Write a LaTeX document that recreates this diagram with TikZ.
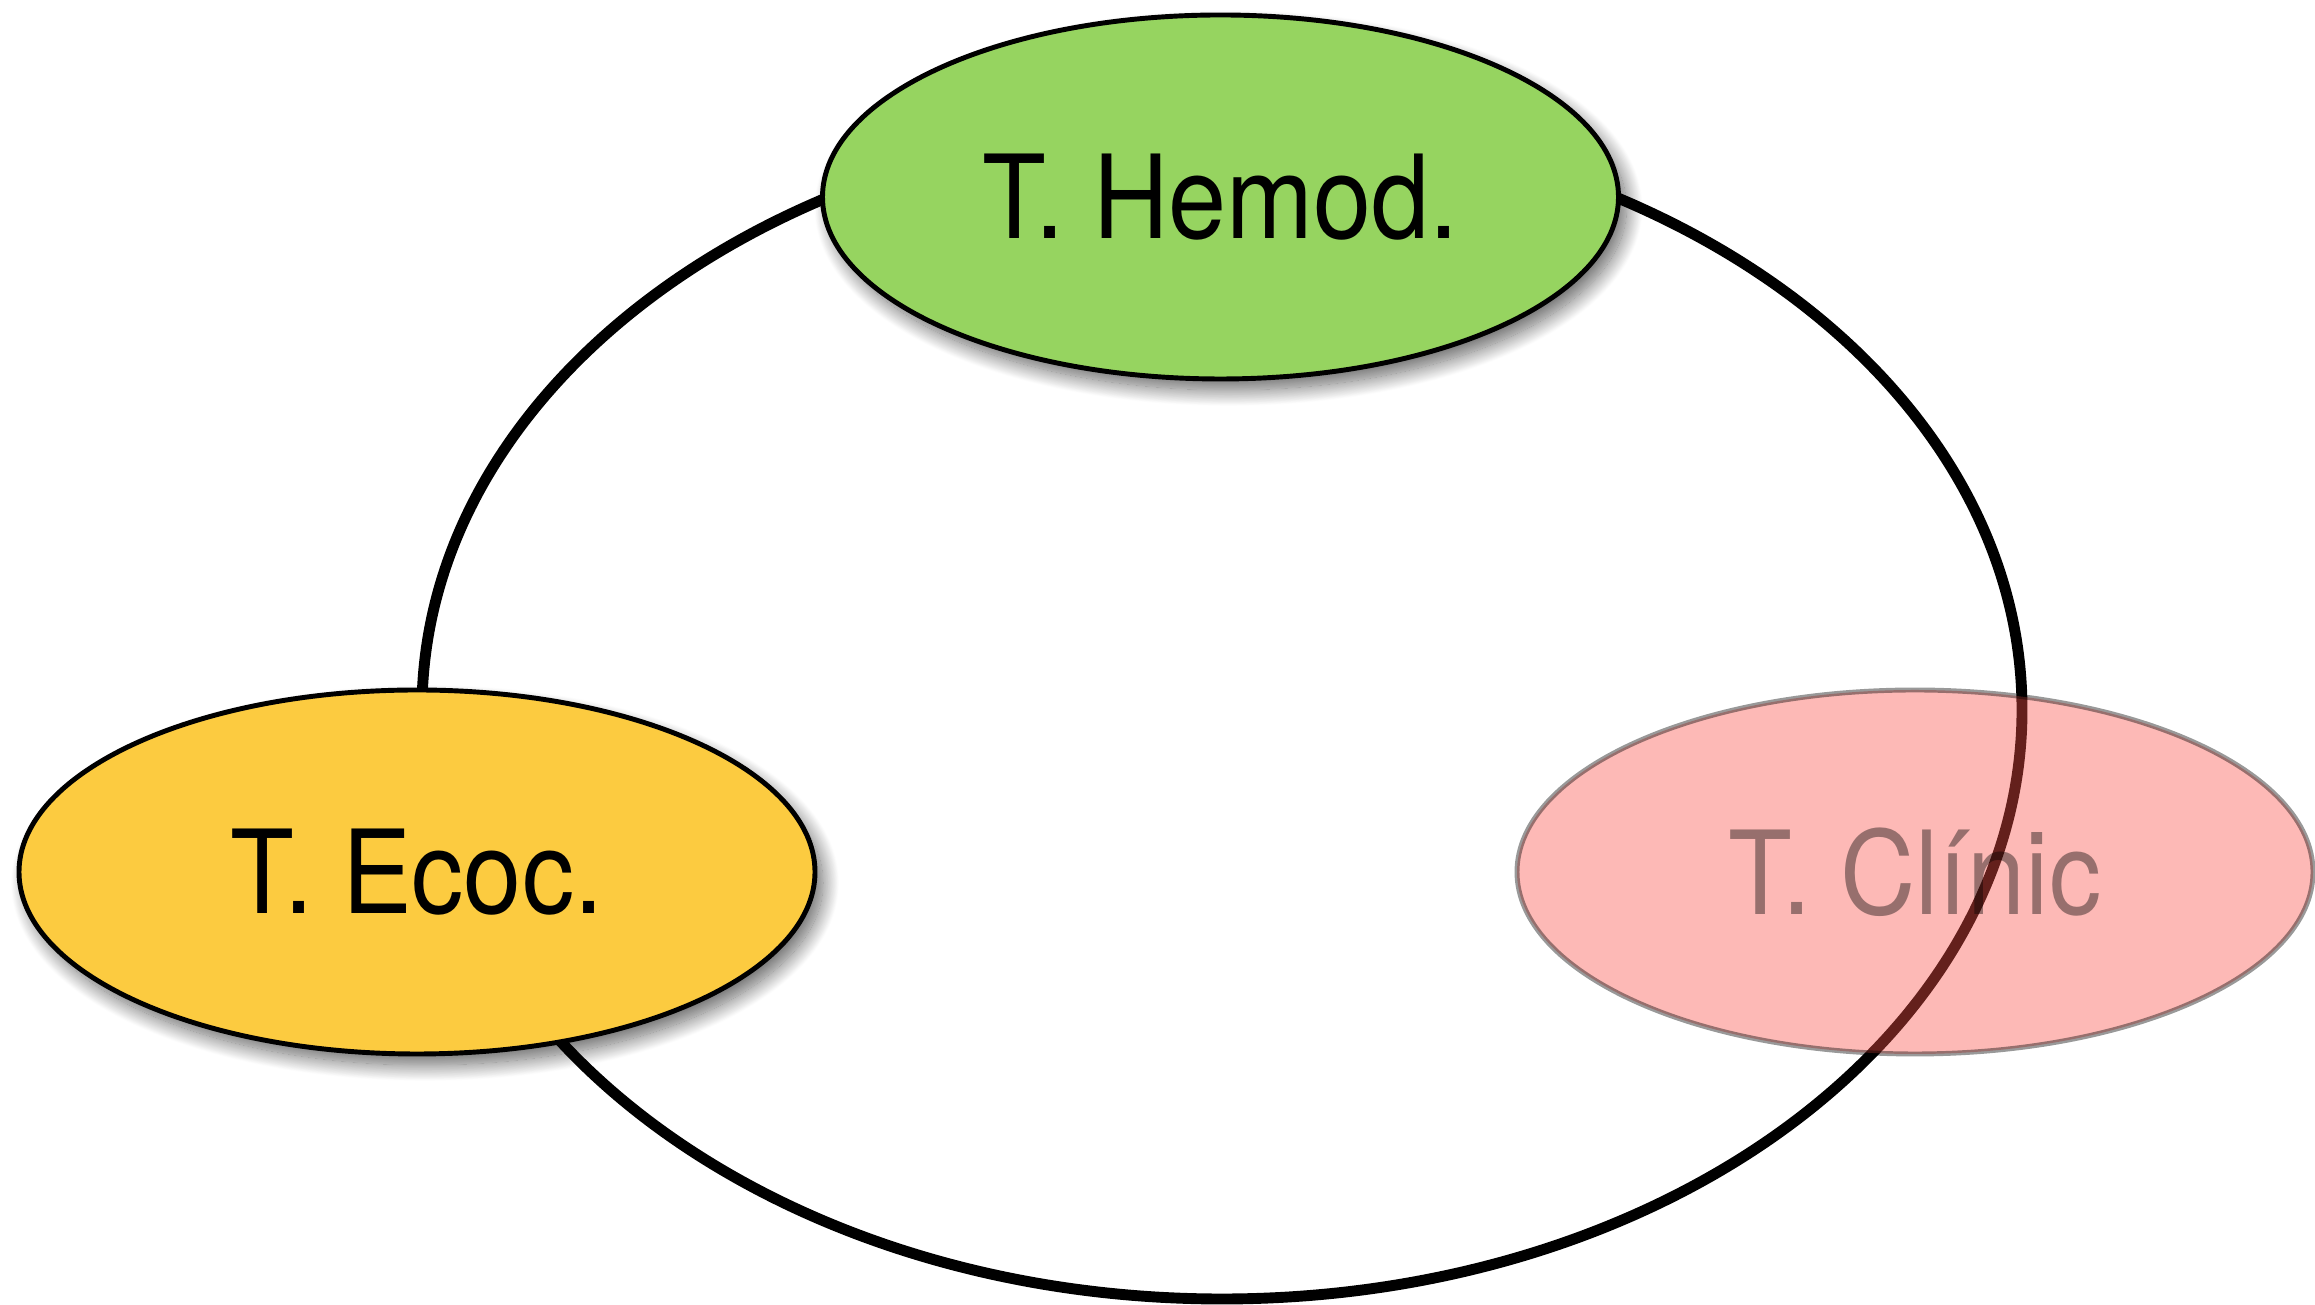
\documentclass[tikz,border=0pt]{standalone}
\usepackage{fontspec}
\setmainfont{TeX Gyre Heros}
\usepackage{graphicx}
\usetikzlibrary{shapes.geometric,shadows.blur}
\definecolor{hemgreen}{RGB}{150,212,96}
\definecolor{ecoyellow}{RGB}{252,203,64}
\definecolor{clinred}{RGB}{250,80,72}
\newcommand\lbl[1]{\scalebox{0.9}[1]{\fontsize{33}{33}\selectfont #1}}
\tikzset{
  ring/.style={draw=black, line width=3.1pt},
  bubble/.style={ellipse, minimum width=7.96cm, minimum height=3.64cm, inner sep=0pt, line width=1.4pt, draw=black},
  solidbubble/.style={bubble, blur shadow={shadow xshift=0.08cm, shadow yshift=-0.11cm, shadow blur radius=0.16cm, shadow blur steps=24, shadow opacity=60}},
  fadedbubble/.style={bubble, fill=clinred, fill opacity=0.4, draw opacity=0.4, text opacity=0.4}
}
\begin{document}
\begin{tikzpicture}
\useasboundingbox (0,0) rectangle (23.15,13.05);
% cycle ring
\coordinate (ringc) at (12.22,5.95);
\draw[ring] (ringc) ellipse [x radius=8.0, y radius=5.89];
% T. Hemod.
\node[solidbubble, fill=hemgreen] (hemod) at (12.205,11.08) {\lbl{T. Hemod.}};
% T. Ecoc.
\node[solidbubble, fill=ecoyellow] (ecoc) at (4.17,4.33) {\lbl{T. Ecoc.}};
% T. Clinic (translucent)
\node[fadedbubble] (clinic) at (19.15,4.33) {\lbl{T. Clínic}};
\end{tikzpicture}
\end{document}
